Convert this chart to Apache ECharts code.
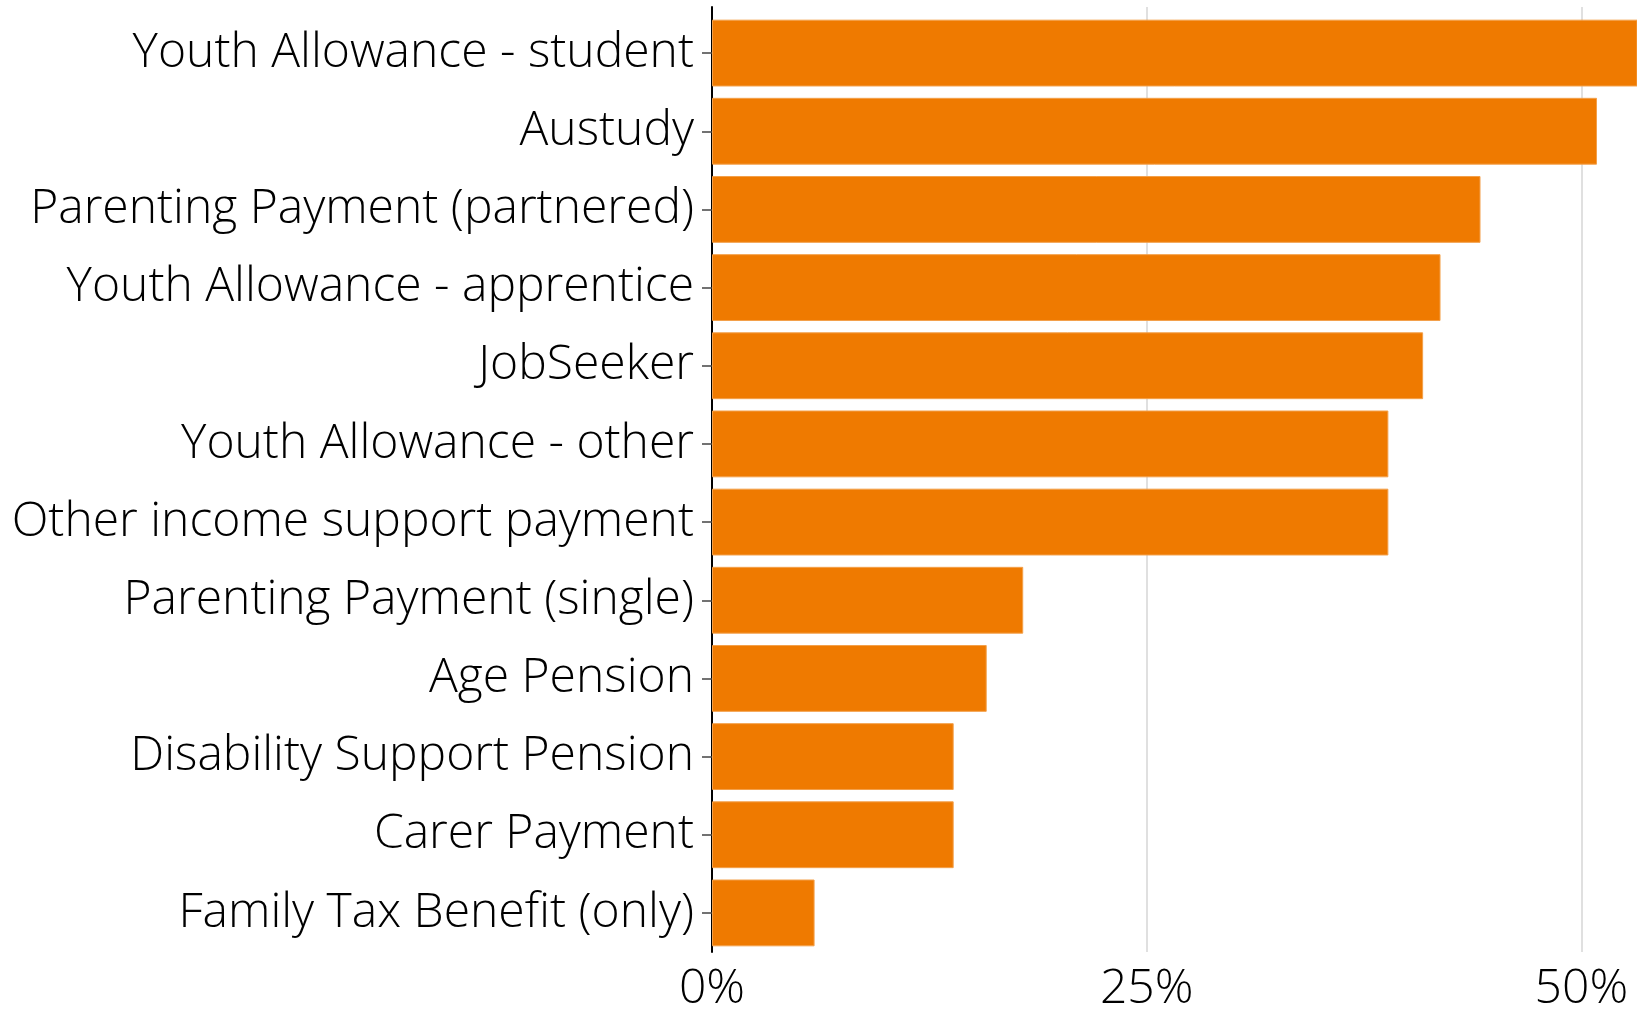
<!DOCTYPE html>
<html>
<head>
<meta charset="utf-8">
<script src="https://cdn.jsdelivr.net/npm/echarts@6/dist/echarts.min.js"></script>
<style>
  html, body { margin: 0; padding: 0; background: #fff; }
  #chart { width: 1637px; height: 1013px; }
</style>
</head>
<body>
<div id="chart"></div>
<script>
// payment types, top to bottom
var categories = [
  'Youth Allowance - student',
  'Austudy',
  'Parenting Payment (partnered)',
  'Youth Allowance - apprentice',
  'JobSeeker',
  'Youth Allowance - other',
  'Other income support payment',
  'Parenting Payment (single)',
  'Age Pension',
  'Disability Support Pension',
  'Carer Payment',
  'Family Tax Benefit (only)'
]
// share of recipients, % (top bar runs off the right edge)
var shares = [54, 50.9, 44.2, 41.9, 40.9, 38.9, 38.9, 17.9, 15.8, 13.9, 13.9, 5.9]
var tickStep = 25
var axisMax = 53.2

var myChart = echarts.init(document.getElementById('chart'))
var font = '"Open Sans", Lato, sans-serif'

var option = {
  backgroundColor: '#fff',
  animation: false,
  grid: [
    // bars
    { left: 712, right: 0, top: 14, bottom: 61 },
    // frame: axis line, gridlines, x labels
    { left: 712, right: 0, top: 7, bottom: 55 }
  ],
  xAxis: [
    {
      gridIndex: 0, type: 'value', min: 0, max: axisMax,
      show: false
    },
    {
      gridIndex: 1, type: 'value', min: 0, max: axisMax, interval: tickStep,
      axisLine: { show: false },
      axisTick: { show: false },
      axisLabel: {
        formatter: '{value}%',
        showMaxLabel: false,
        color: '#000',
        fontFamily: font,
        fontWeight: 300,
        fontSize: 48,
        margin: 13
      },
      splitLine: {
        show: true,
        showMinLine: false,
        showMaxLine: false,
        lineStyle: { color: '#e0e0e0', width: 2 }
      }
    }
  ],
  yAxis: [
    {
      gridIndex: 0, type: 'category', data: categories, inverse: true,
      axisLine: { show: false },
      axisTick: {
        show: true, alignWithLabel: true, length: 10,
        lineStyle: { color: '#444', width: 1.5 }
      },
      axisLabel: {
        color: '#000',
        fontFamily: font,
        fontWeight: 300,
        fontSize: 48,
        margin: 18,
        padding: [0, 0, 9, 0]
      }
    },
    {
      gridIndex: 1, type: 'value', min: 0, max: 1,
      axisLine: { show: true, lineStyle: { color: '#000', width: 2 } },
      axisTick: { show: false },
      axisLabel: { show: false },
      splitLine: { show: false }
    }
  ],
  series: [{
    type: 'bar',
    xAxisIndex: 0,
    yAxisIndex: 0,
    barCategoryGap: '14.5%',
    clip: true,
    itemStyle: {
      color: '#ef7a00',
      borderColor: '#f3a04a',
      borderWidth: 1
    },
    data: shares,
    z: 3
  }]
}
myChart.setOption(option)
</script>
</body>
</html>
